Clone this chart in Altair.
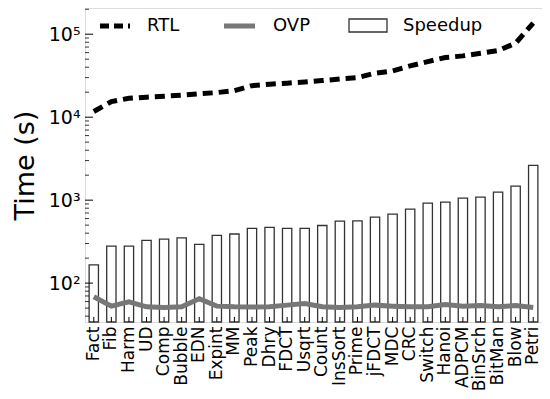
import altair as alt
import pandas as pd

benchmarks = ["Fact", "Fib", "Harm", "UD", "Comp", "Bubble", "EDN", "Expint", "MM", "Peak",
              "Dhry", "FDCT", "Usqrt", "Count", "InsSort", "Prime", "jFDCT", "MDC", "CRC",
              "Switch", "Hanoi", "ADPCM", "BinSrch", "BitMan", "Blow", "Petri"]
speedup = [166, 279, 279, 327, 339, 351, 293, 376, 391, 456,
           469, 456, 456, 495, 558, 563, 624, 678, 780,
           920, 946, 1057, 1086, 1248, 1475, 2630]
rtl = [11700, 15400, 16900, 17400, 17900, 18400, 19100, 19800, 20900, 24000,
       25000, 25700, 26600, 27600, 28900, 30000, 33900, 36100, 41500,
       46800, 52300, 54800, 59000, 63400, 78000, 136000]
ovp = [68.4, 52.8, 59.6, 51.8, 51.0, 51.8, 64.7, 52.8, 51.8, 51.5,
       51.8, 54.3, 56.9, 51.8, 50.9, 51.8, 54.3, 52.8, 51.8,
       51.8, 55.4, 52.8, 53.8, 51.8, 53.8, 50.9]
legend_names = ["RTL", "OVP", "Speedup"]
ytick_values = [100, 1000, 10000, 100000]
minor_ticks = [m * 10 ** e for e in range(1, 6) for m in range(2, 10) if 34 <= m * 10 ** e <= 207000]

df = pd.DataFrame({"bench": benchmarks, "speedup": speedup, "rtl": rtl, "ovp": ovp})

FONT = "DejaVu Sans"
YMIN, YMAX = 34, 207000
yscale = alt.Scale(type="log", domain=[YMIN, YMAX], nice=False)
xsort = alt.X("bench:N", sort=benchmarks)
xenc = alt.X("bench:N", sort=benchmarks, title=None,
             scale=alt.Scale(paddingInner=0.47, paddingOuter=0.235),
             axis=alt.Axis(labelAngle=270, labelFontSize=17, labelFont=FONT, labelColor="black",
                           domain=False, ticks=False, labelPadding=4))

bars = alt.Chart(df).mark_bar(fill="white", stroke="#333333", strokeWidth=1.3).encode(
    x=xenc,
    y=alt.Y("speedup:Q", scale=yscale, title="Time (s)",
            axis=alt.Axis(values=ytick_values, grid=False, domain=False, ticks=False,
                          labelExpr="datum.value == 100 ? '10²' : datum.value == 1000 ? '10³' : datum.value == 10000 ? '10⁴' : '10⁵'",
                          labelFontSize=19, labelFont=FONT, labelColor="black", labelPadding=5,
                          titleFontSize=27, titleFont=FONT, titleFontWeight="normal", titleColor="black",
                          titlePadding=9)),
    y2=alt.datum(YMIN),
)

ovp_line = alt.Chart(df).mark_line(color="#777777", strokeWidth=5).encode(
    x=xsort, y=alt.Y("ovp:Q", scale=yscale)
)
rtl_line = alt.Chart(df).mark_line(color="black", strokeWidth=5, strokeDash=[10, 6]).encode(
    x=xsort, y=alt.Y("rtl:Q", scale=yscale)
)

# inward ticks (matplotlib style)
major_t = alt.Chart(pd.DataFrame({"v": ytick_values})).mark_rule(color="black", strokeWidth=1).encode(
    y=alt.Y("v:Q", scale=yscale), x=alt.value(0), x2=alt.value(8))
minor_t = alt.Chart(pd.DataFrame({"v": minor_ticks})).mark_rule(color="black", strokeWidth=0.8).encode(
    y=alt.Y("v:Q", scale=yscale), x=alt.value(0), x2=alt.value(4))
x_t = alt.Chart(df).mark_rule(color="black", strokeWidth=1).encode(
    x=xsort, y=alt.datum(YMIN), y2=alt.datum(YMIN * 1.15))

# legend (inside top of plot)
leg_rtl = alt.Chart().mark_rule(color="black", strokeWidth=5, strokeDash=[9, 5]).encode(
    x=alt.value(15), x2=alt.value(45), y=alt.value(18))
leg_ovp = alt.Chart().mark_rule(color="#777777", strokeWidth=5).encode(
    x=alt.value(139), x2=alt.value(170), y=alt.value(18))
leg_sp = alt.Chart().mark_rect(fill="white", stroke="#333333", strokeWidth=1.3).encode(
    x=alt.value(264), x2=alt.value(302), y=alt.value(11), y2=alt.value(24))
leg_text = alt.Chart(pd.DataFrame({"name": legend_names, "px": [62, 188, 318]})).mark_text(
    align="left", baseline="middle", fontSize=18, font=FONT, color="black").encode(
    x=alt.X("px:Q", scale=None), y=alt.value(18), text="name:N")

chart = alt.layer(bars, ovp_line, rtl_line, major_t, minor_t, x_t,
                  leg_rtl, leg_ovp, leg_sp, leg_text).properties(
    width=534, height=383,
    padding={"left": 3, "top": 0, "right": 0, "bottom": 0},
    autosize=alt.AutoSizeParams(type="fit", contains="padding"),
).configure_view(stroke="black", strokeWidth=2).configure(background="white")

chart.save("out.html", embed_options={"renderer": "svg", "actions": False})
